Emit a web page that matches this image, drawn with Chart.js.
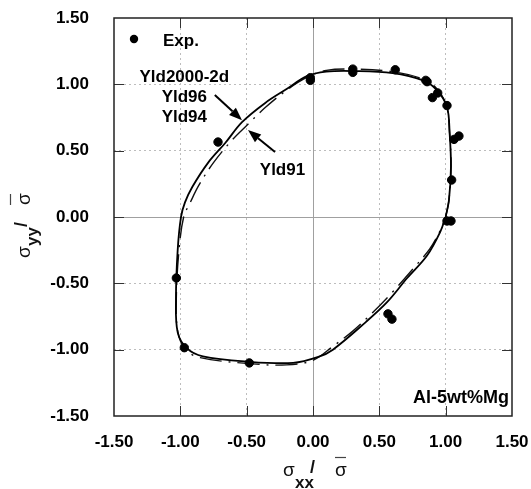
<!DOCTYPE html>
<html><head><meta charset="utf-8">
<script src="https://cdn.jsdelivr.net/npm/chart.js@4.4.0/dist/chart.umd.min.js"></script>
<style>html,body{margin:0;padding:0;background:#fff}#wrap{width:531px;height:489px}</style>
</head><body><div id="wrap"><canvas id="c" width="531" height="489"></canvas></div>
<script>
// ---- data ----
const tickValues = [-1.5, -1.0, -0.5, 0, 0.5, 1.0, 1.5];

const expX = [-0.716, -0.02, -0.02, 0.30, 0.30, 0.62, 0.85, 0.86, 0.94, 0.90, 1.01, 1.063, 1.10, 1.045, 1.01, 1.04, 0.565, 0.595, -1.03, -0.97, -0.48];
const expY = [0.565, 1.05, 1.03, 1.115, 1.09, 1.11, 1.03, 1.02, 0.935, 0.90, 0.84, 0.585, 0.61, 0.279, -0.03, -0.03, -0.73, -0.77, -0.46, -0.985, -1.10];

const yld2000X = [1.00, 1.025, 1.04, 1.03, 1.01, 0.93, 0.83, 0.60, 0.30, 0.10, -0.05, -0.19, -0.36, -0.535, -0.66, -0.79, -0.91, -0.965, -0.995, -1.02, -1.033, -1.02, -0.95, -0.83, -0.50, -0.15, 0.04, 0.15, 0.40, 0.56, 0.71, 0.86, 0.96, 1.00];
const yld2000Y = [0.00, 0.13, 0.38, 0.63, 0.83, 0.96, 1.03, 1.085, 1.10, 1.095, 1.06, 0.97, 0.86, 0.715, 0.56, 0.41, 0.226, 0.11, 0.00, -0.25, -0.62, -0.87, -0.99, -1.05, -1.09, -1.10, -1.055, -1.00, -0.79, -0.64, -0.46, -0.29, -0.11, 0.00];

const yld91X = [1.00, 1.025, 1.04, 1.03, 1.005, 0.93, 0.83, 0.60, 0.30, 0.10, -0.05, -0.20, -0.36, -0.50, -0.61, -0.75, -0.86, -0.925, -0.975, -1.01, -1.03, -1.02, -0.96, -0.85, -0.48, -0.20, 0.00, 0.15, 0.30, 0.45, 0.60, 0.75, 0.88, 0.96, 1.00];
const yld91Y = [0.00, 0.13, 0.38, 0.63, 0.84, 0.97, 1.04, 1.095, 1.115, 1.105, 1.05, 0.955, 0.825, 0.69, 0.58, 0.41, 0.24, 0.11, 0.00, -0.25, -0.60, -0.86, -1.00, -1.06, -1.105, -1.115, -1.08, -0.975, -0.86, -0.72, -0.565, -0.395, -0.24, -0.10, 0.00];

const annotations = [
  {text: 'Yld2000-2d', x: -0.97, y: 1.05},
  {text: 'Yld96', x: -0.97, y: 0.90},
  {text: 'Yld94', x: -0.97, y: 0.75},
  {text: 'Yld91', x: -0.23, y: 0.355}
];
const arrows = [
  {fromX: -0.74, fromY: 0.92, toX: -0.535, toY: 0.73},
  {fromX: -0.286, fromY: 0.49, toX: -0.49, toY: 0.655}
];

const zip = (xs, ys) => xs.map((x, i) => ({x: x, y: ys[i]}));
const FONT = '"Liberation Sans", Arial, Helvetica, sans-serif';

const decor = {
  id: 'decor',
  afterDraw(chart) {
    const ctx = chart.ctx, a = chart.chartArea;
    const xs = chart.scales.x, ys = chart.scales.y;
    ctx.save();
    // inward ticks
    ctx.strokeStyle = '#333'; ctx.lineWidth = 1;
    tickValues.forEach(v => {
      if (Math.abs(v) === 1.5) return;
      const px = Math.round(xs.getPixelForValue(v)) + 0.5;
      const py = Math.round(ys.getPixelForValue(v)) + 0.5;
      ctx.beginPath();
      ctx.moveTo(px, a.bottom); ctx.lineTo(px, a.bottom - 10);
      ctx.moveTo(px, a.top); ctx.lineTo(px, a.top + 10);
      ctx.moveTo(a.left, py); ctx.lineTo(a.left + 10, py);
      ctx.moveTo(a.right, py); ctx.lineTo(a.right - 10, py);
      ctx.stroke();
    });
    // frame
    ctx.strokeStyle = '#222'; ctx.lineWidth = 1.5;
    ctx.strokeRect(a.left, a.top, a.right - a.left, a.bottom - a.top);

    // legend
    ctx.fillStyle = '#000';
    ctx.beginPath(); ctx.arc(a.left + 20, a.top + 21, 4.2, 0, Math.PI * 2); ctx.fill();
    ctx.font = 'bold 17px ' + FONT;
    ctx.textBaseline = 'middle'; ctx.textAlign = 'left';
    ctx.fillText('Exp.', a.left + 49, a.top + 23);

    // annotations
    ctx.textAlign = 'center';
    annotations.forEach(t => {
      ctx.fillText(t.text, xs.getPixelForValue(t.x), ys.getPixelForValue(t.y));
    });
    ctx.font = 'bold 18px ' + FONT;
    ctx.textAlign = 'right'; ctx.textBaseline = 'alphabetic';
    ctx.fillText('Al-5wt%Mg', a.right - 3, a.bottom - 13);

    // arrows
    arrows.forEach(r => {
      const x1 = xs.getPixelForValue(r.fromX), y1 = ys.getPixelForValue(r.fromY);
      const x2 = xs.getPixelForValue(r.toX), y2 = ys.getPixelForValue(r.toY);
      const ang = Math.atan2(y2 - y1, x2 - x1);
      const hl = 13, hw = 5;
      const bx = x2 - hl * Math.cos(ang), by = y2 - hl * Math.sin(ang);
      ctx.strokeStyle = '#000'; ctx.lineWidth = 2;
      ctx.beginPath(); ctx.moveTo(x1, y1); ctx.lineTo(bx, by); ctx.stroke();
      ctx.beginPath();
      ctx.moveTo(x2, y2);
      ctx.lineTo(bx + hw * Math.sin(ang), by - hw * Math.cos(ang));
      ctx.lineTo(bx - hw * Math.sin(ang), by + hw * Math.cos(ang));
      ctx.closePath(); ctx.fill();
    });

    // x axis title: sigma_xx / sigma-bar
    ctx.textAlign = 'left'; ctx.textBaseline = 'alphabetic';
    ctx.fillStyle = '#111';
    ctx.font = '19px ' + FONT;
    ctx.fillText('σ', 283, 476);
    ctx.font = 'bold 17px ' + FONT;
    ctx.fillText('xx', 295, 488);
    ctx.font = 'bold 18px ' + FONT;
    ctx.fillText('/', 310, 473);
    ctx.font = '19px ' + FONT;
    ctx.fillText('σ', 335, 476);
    ctx.strokeStyle = '#444'; ctx.lineWidth = 1.2;
    ctx.beginPath(); ctx.moveTo(335, 457.5); ctx.lineTo(346, 457.5); ctx.stroke();

    // y axis title (rotated)
    ctx.translate(30, 258); ctx.rotate(-Math.PI / 2);
    ctx.font = '19px ' + FONT;
    ctx.fillText('σ', 0, 0);
    ctx.font = 'bold 17px ' + FONT;
    ctx.fillText('yy', 12, 8);
    ctx.font = 'bold 18px ' + FONT;
    ctx.fillText('/', 31, -3);
    ctx.font = '19px ' + FONT;
    ctx.fillText('σ', 53, 0);
    ctx.beginPath(); ctx.moveTo(53, -19.5); ctx.lineTo(64, -19.5); ctx.stroke();
    ctx.restore();
  }
};

const gridColor = c => {
  if (!c.tick) return '#bbb';
  const v = c.tick.value;
  if (Math.abs(v) === 1.5) return 'rgba(0,0,0,0)';
  return v === 0 ? '#a0a0a0' : '#bdbdbd';
};
const gridDash = c => (c.tick && c.tick.value !== 0) ? [2, 3] : [];

const axisCommon = {
  type: 'linear', min: -1.5, max: 1.5,
  afterBuildTicks: s => { s.ticks = tickValues.map(v => ({value: v})); },
  grid: {color: gridColor, lineWidth: 1, drawTicks: false},
  border: {display: false, dash: gridDash},
  ticks: {
    color: '#000',
    font: {family: FONT, size: 17, weight: 'bold'},
    callback: v => Number(v).toFixed(2)
  }
};

new Chart(document.getElementById('c'), {
  type: 'scatter',
  data: {
    datasets: [
      {label: 'Exp.', data: zip(expX, expY), backgroundColor: '#000', borderColor: '#000', pointRadius: 4.2, pointHoverRadius: 4.2, showLine: false},
      {label: 'Yld2000-2d', data: zip(yld2000X, yld2000Y), showLine: true, borderColor: '#000', borderWidth: 1.8, pointRadius: 0, tension: 0.35, fill: false},
      {label: 'Yld91', data: zip(yld91X, yld91Y), showLine: true, borderColor: '#111', borderWidth: 1.4, borderDash: [22, 7, 2, 7], pointRadius: 0, tension: 0.35, fill: false}
    ]
  },
  options: {
    responsive: false, animation: false, devicePixelRatio: 1,
    layout: {padding: {top: 18, right: 19, left: 0, bottom: 0}},
    plugins: {legend: {display: false}, tooltip: {enabled: false}},
    scales: {
      x: Object.assign({}, axisCommon, {
        position: 'bottom',
        afterFit: s => { s.height = 73; s.paddingLeft = 0; s.paddingRight = 0; },
        ticks: Object.assign({}, axisCommon.ticks, {padding: 16, maxRotation: 0, autoSkip: false})
      }),
      y: Object.assign({}, axisCommon, {
        position: 'left',
        afterFit: s => { s.width = 114; s.paddingTop = 0; s.paddingBottom = 0; },
        ticks: Object.assign({}, axisCommon.ticks, {padding: 25, autoSkip: false})
      })
    }
  },
  plugins: [decor]
});
</script>
</body></html>
